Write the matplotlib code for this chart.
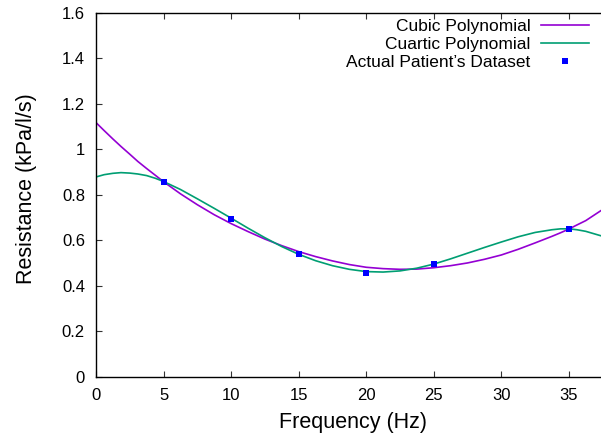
import numpy as np
import matplotlib
matplotlib.use('Agg')
import matplotlib.pyplot as plt

plt.rcParams['font.family'] = ['Liberation Sans', 'DejaVu Sans']

# patient's measured resistance
freq_pts = [5, 10, 15, 20, 25, 35]
res_pts = [0.857, 0.694, 0.541, 0.457, 0.497, 0.651]

# fitted curves
freq_fit = [0, 0.6, 1.25, 1.85, 2.5, 3.1, 3.75, 4.4, 5, 6.25, 7.5, 8.75, 10,
            11.25, 12.5, 13.75, 15, 16.25, 17.5, 18.75, 20, 21.25, 22.5, 23.75,
            25, 26.25, 27.5, 28.75, 30, 31.25, 32.5, 33.75, 34.4, 35, 35.6,
            36.25, 37.4]
cubic = [1.117, 1.082, 1.045, 1.012, 0.978, 0.946, 0.915, 0.885, 0.857, 0.804,
         0.756, 0.712, 0.673, 0.638, 0.605, 0.576, 0.550, 0.528, 0.509, 0.493,
         0.481, 0.475, 0.472, 0.473, 0.479, 0.488, 0.500, 0.516, 0.535, 0.560,
         0.588, 0.617, 0.633, 0.649, 0.667, 0.686, 0.731]
quartic = [0.878, 0.888, 0.894, 0.897, 0.895, 0.891, 0.884, 0.872, 0.858, 0.823,
           0.782, 0.740, 0.697, 0.653, 0.611, 0.572, 0.538, 0.510, 0.488, 0.472,
           0.462, 0.460, 0.465, 0.477, 0.495, 0.518, 0.543, 0.568, 0.592, 0.615,
           0.634, 0.646, 0.650, 0.650, 0.646, 0.639, 0.619]

fig = plt.figure(figsize=(6.01, 4.36), dpi=100)
ax = fig.add_axes([96/601, (436-376.7)/436, (601-96)/601, 364/436])

ax.plot(freq_fit, cubic, color='#9400D3', lw=1.2, label='Cubic Polynomial')
ax.plot(freq_fit, quartic, color='#009E73', lw=1.2, label='Cuartic Polynomial')
ax.plot(freq_pts, res_pts, 's', color='blue', ms=4.5, mew=0,
        label='Actual Patient\u2019s Dataset')

ax.set_xlim(0, 37.38)
ax.set_ylim(0, 1.6)
ax.set_xticks(range(0, 36, 5))
yt = [0, 0.2, 0.4, 0.6, 0.8, 1.0, 1.2, 1.4, 1.6]
ax.set_yticks(yt)
ax.set_yticklabels(['%g' % v for v in yt])
ax.tick_params(direction='in', length=4.5, width=0.8, labelsize=12, pad=8,
               top=True, right=False, color='#333333')
for s in ax.spines.values():
    s.set_linewidth(1.0)
ax.spines['right'].set_visible(False)

ax.set_xlabel('Frequency (Hz)', fontsize=15.5)
ax.set_ylabel('Resistance (kPa/l/s)', fontsize=15.5)
ax.xaxis.set_label_coords(0.508, -0.097)
ax.yaxis.set_label_coords(-0.117, 0.517)

leg = ax.legend(loc='upper right', bbox_to_anchor=(0.976, 0.982), frameon=False,
                markerfirst=False, fontsize=12.5, handlelength=2.74,
                handletextpad=0.63, labelspacing=0.16, borderpad=0,
                borderaxespad=0, numpoints=1)
for col in leg._legend_handle_box.get_children():
    col.align = 'right'

fig.savefig('out.png', dpi=100)
